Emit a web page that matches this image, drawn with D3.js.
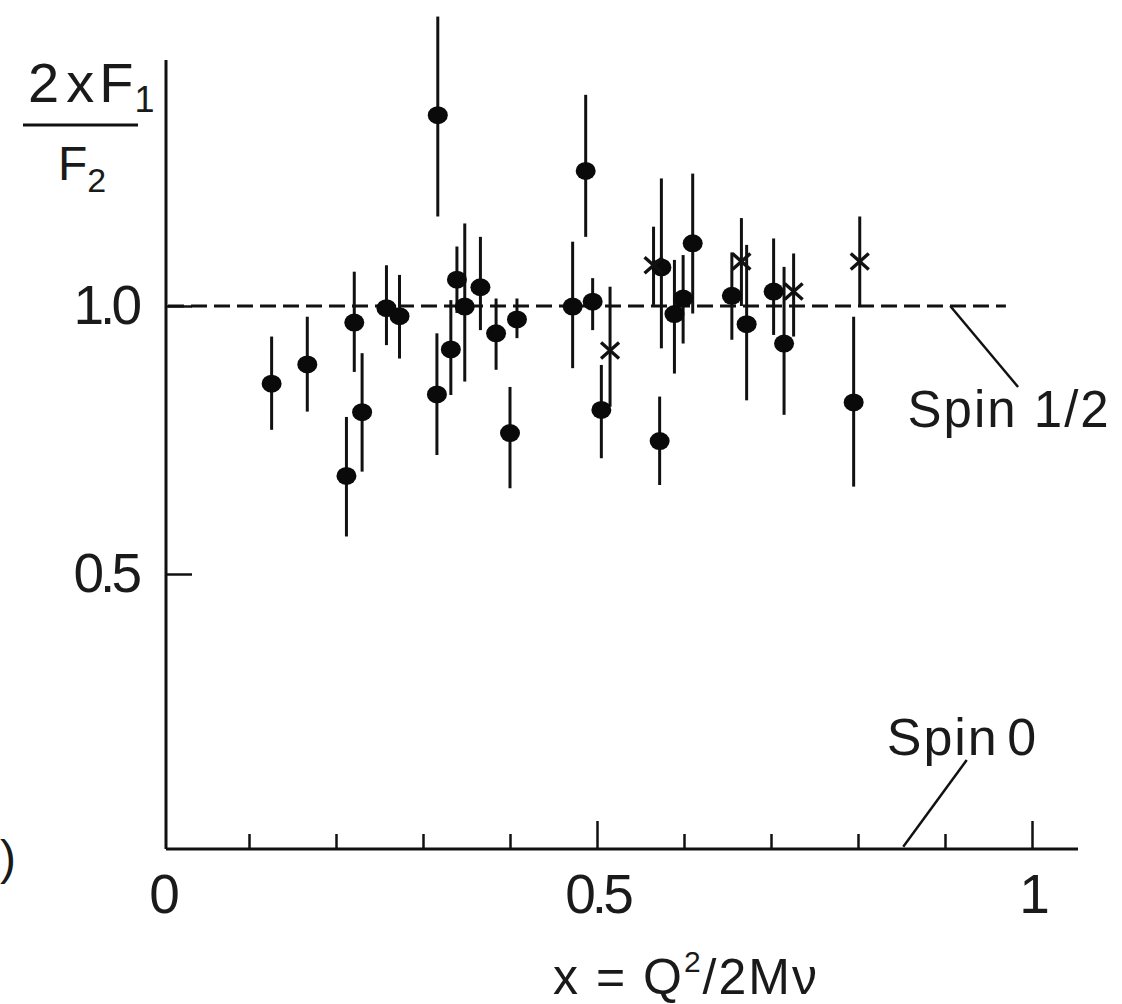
<!DOCTYPE html>
<html>
<head>
<meta charset="utf-8">
<script src="https://cdn.jsdelivr.net/npm/d3@7"></script>
<style>
  body { margin: 0; background: #fff; }
  svg { display: block; font-family: "Liberation Sans", Arial, sans-serif; }
</style>
</head>
<body>
<svg id="chart" width="1122" height="1004"></svg>
<script>
// filled circles: x, ratio 2xF1/F2, and the ends of the error bar
const dotX  = [0.126, 0.167, 0.212, 0.221, 0.230, 0.258, 0.273, 0.316, 0.317, 0.332, 0.339, 0.348, 0.366, 0.384, 0.400,
               0.408, 0.472, 0.487, 0.495, 0.505, 0.572, 0.574, 0.589, 0.599, 0.610, 0.655, 0.672, 0.703, 0.715, 0.795];
const dotY  = [0.855, 0.891, 0.683, 0.969, 0.802, 0.996, 0.981, 0.835, 1.356, 0.919, 1.049, 0.999, 1.035, 0.949, 0.763,
               0.975, 0.999, 1.252, 1.008, 0.806, 0.748, 1.072, 0.985, 1.014, 1.117, 1.019, 0.966, 1.027, 0.930, 0.820];
const dotLo = [0.769, 0.803, 0.570, 0.877, 0.691, 0.927, 0.902, 0.722, 1.167, 0.834, 0.987, 0.859, 0.955, 0.881, 0.660,
               0.940, 0.884, 1.129, 0.955, 0.716, 0.666, 0.921, 0.874, 0.930, 0.986, 0.937, 0.824, 0.946, 0.797, 0.663];
const dotHi = [0.943, 0.980, 0.793, 1.064, 0.912, 1.076, 1.058, 0.949, 1.540, 1.011, 1.111, 1.154, 1.129, 1.014, 0.849,
               1.014, 1.120, 1.394, 1.052, 0.890, 0.831, 1.238, 1.086, 1.095, 1.247, 1.100, 1.114, 1.126, 1.073, 0.980];

// crosses (second data set)
const crossX  = [0.515, 0.565, 0.666, 0.726, 0.802];
const crossY  = [0.917, 1.076, 1.083, 1.027, 1.083];
const crossLo = [0.812, 1.002, 1.000, 0.943, 0.999];
const crossHi = [1.036, 1.148, 1.164, 1.098, 1.167];

const xMajorTicks = [0, 0.5, 1];
const xTickLabels = ["0", "0.5", "1"];
const xMinorTicks = [0.1, 0.2, 0.3, 0.4, 0.6, 0.7, 0.8, 0.9];
const yTicks = [0.5, 1.0];
const yTickLabels = ["0.5", "1.0"];

const spinHalf = 1.0;   // expected for spin 1/2
const spinZero = 0;     // expected for spin 0

const svg = d3.select("#chart");

const x = d3.scaleLinear().domain([0, 1]).range([162, 1032]);
const y = d3.scaleLinear().domain([0, 1]).range([842, 306]);

const axisLeftX = 166, axisBottomY = 849, axisTopY = 60, axisRightX = 1078;

// frame
svg.append("line")
  .attr("x1", axisLeftX).attr("x2", axisLeftX)
  .attr("y1", axisTopY).attr("y2", axisBottomY)
  .attr("stroke", "#111").attr("stroke-width", 3);
svg.append("line")
  .attr("x1", axisLeftX).attr("x2", axisRightX)
  .attr("y1", axisBottomY).attr("y2", axisBottomY)
  .attr("stroke", "#111").attr("stroke-width", 3);

// x axis
const gx = svg.append("g")
  .attr("transform", `translate(0,${axisBottomY})`)
  .call(d3.axisBottom(x).tickValues(xMajorTicks).tickSize(-28).tickPadding(25)
    .tickFormat((d, i) => xTickLabels[i]));
gx.select(".domain").remove();
gx.selectAll(".tick").filter(d => d === 0).select("line").remove();
gx.selectAll(".tick line").attr("stroke", "#111").attr("stroke-width", 2.5);

const gxMinor = svg.append("g")
  .attr("transform", `translate(0,${axisBottomY})`)
  .call(d3.axisBottom(x).tickValues(xMinorTicks).tickSize(-15).tickFormat(""));
gxMinor.select(".domain").remove();
gxMinor.selectAll(".tick line").attr("stroke", "#111").attr("stroke-width", 2.5);

// y axis
const gy = svg.append("g")
  .attr("transform", `translate(${axisLeftX},0)`)
  .call(d3.axisLeft(y).tickValues(yTicks).tickSize(-26).tickPadding(28)
    .tickFormat((d, i) => yTickLabels[i]));
gy.select(".domain").remove();
gy.selectAll(".tick line").attr("stroke", "#111").attr("stroke-width", 2.5);

svg.selectAll(".tick text")
  .attr("fill", "#1a1a1a")
  .style("font-size", "55px")
  .style("letter-spacing", "-4px")
  .style("font-family", "'Liberation Sans', Arial, sans-serif");

// spin 1/2 reference line
svg.append("line")
  .attr("x1", axisLeftX + 2).attr("x2", x(0.97))
  .attr("y1", y(spinHalf)).attr("y2", y(spinHalf))
  .attr("stroke", "#111").attr("stroke-width", 3)
  .attr("stroke-dasharray", "16,7");

// error bars
const dots = dotX.map((d, i) => ({ x: d, y: dotY[i], lo: dotLo[i], hi: dotHi[i] }));
const crosses = crossX.map((d, i) => ({ x: d, y: crossY[i], lo: crossLo[i], hi: crossHi[i] }));

svg.append("g").selectAll("line")
  .data(dots.concat(crosses))
  .enter().append("line")
  .attr("x1", d => x(d.x)).attr("x2", d => x(d.x))
  .attr("y1", d => y(d.lo)).attr("y2", d => y(d.hi))
  .attr("stroke", "#111").attr("stroke-width", 3);

svg.append("g").selectAll("ellipse")
  .data(dots)
  .enter().append("ellipse")
  .attr("cx", d => x(d.x)).attr("cy", d => y(d.y))
  .attr("rx", 10).attr("ry", 9)
  .attr("fill", "#0a0a0a");

svg.append("g").selectAll("path")
  .data(crosses)
  .enter().append("path")
  .attr("transform", d => `translate(${x(d.x)},${y(d.y)})`)
  .attr("d", "M-9,-8L9,8M-9,8L9,-8")
  .attr("stroke", "#111").attr("stroke-width", 3.4).attr("fill", "none");

// annotations
const leader = (x1, y1, x2, y2) => svg.append("line")
  .attr("x1", x(x1)).attr("y1", y(y1)).attr("x2", x(x2)).attr("y2", y(y2))
  .attr("stroke", "#111").attr("stroke-width", 2.5);

leader(0.906, spinHalf, 0.984, 0.849);
svg.append("text")
  .attr("x", x(0.857)).attr("y", y(0.774))
  .attr("fill", "#1a1a1a").style("font-size", "51px").style("letter-spacing", "2px")
  .text("Spin 1/2");

leader(0.852, spinZero - 0.009, 0.925, 0.153);
svg.append("text")
  .attr("x", x(0.833)).attr("y", y(0.162))
  .attr("fill", "#1a1a1a").style("font-size", "52px")
  .style("word-spacing", "-8px").style("letter-spacing", "2px")
  .text("Spin 0");

// y label: 2xF1 / F2
const num = svg.append("text").attr("x", 28).attr("y", 102)
  .attr("fill", "#1a1a1a").style("font-size", "56px").style("letter-spacing", "1px");
num.append("tspan").text("2");
num.append("tspan").attr("dx", 6).text("x");
num.append("tspan").attr("dx", 4).text("F");
num.append("tspan").attr("dy", 10).style("font-size", "36px").text("1");

svg.append("line")
  .attr("x1", 23).attr("x2", 138).attr("y1", 125).attr("y2", 125)
  .attr("stroke", "#111").attr("stroke-width", 3);

const den = svg.append("text").attr("x", 58).attr("y", 180)
  .attr("fill", "#1a1a1a").style("font-size", "48px");
den.append("tspan").text("F");
den.append("tspan").attr("dy", 12).style("font-size", "34px").text("2");

// x label
const xl = svg.append("text").attr("x", 686).attr("y", 994)
  .attr("text-anchor", "middle").attr("fill", "#1a1a1a")
  .style("font-size", "50px").style("letter-spacing", "2px");
xl.append("tspan").text("x = Q");
xl.append("tspan").attr("dy", -22).style("font-size", "30px").text("2");
xl.append("tspan").attr("dy", 22).text("/2Mν");

// stray bracket at the left edge of the scan
svg.append("text").attr("x", 0).attr("y", 874)
  .attr("fill", "#1a1a1a").style("font-size", "48px").text(")");
</script>
</body>
</html>
